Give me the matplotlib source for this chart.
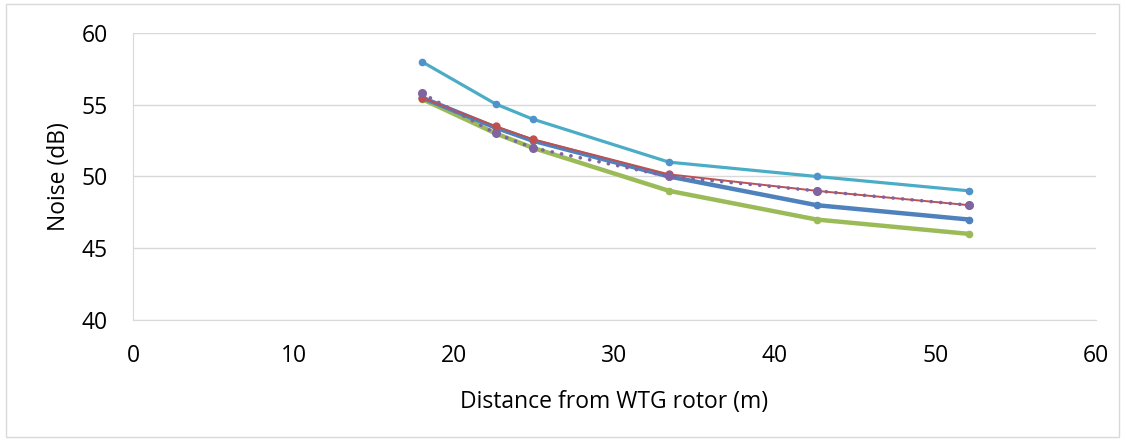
import matplotlib.pyplot as plt

plt.rcParams['font.family'] = ['Open Sans', 'DejaVu Sans']

distance = [18, 22.6, 24.9, 33.4, 42.6, 52.1]

noise_cyan = [58, 55.05, 54, 51, 50, 49]
noise_blue = [55.5, 53.4, 52.5, 50.0, 48, 47]
noise_red = [55.5, 53.5, 52.6, 50.15, 49, 48]
noise_purple = [55.8, 53, 52, 50, 49, 48]
noise_green = [55.4, 53, 52, 49, 47, 46]

fig = plt.figure(figsize=(11.26, 4.41), dpi=100)
ax = fig.add_axes([133 / 1126, 1 - 320 / 441, (1096 - 133) / 1126, (320 - 33) / 441])

ax.plot(distance, noise_green, color='#9BBB59', lw=3.2, marker='o', ms=4.5, zorder=3)
ax.plot(distance, noise_blue, color='#4F81BD', lw=3.2, marker='o', ms=4.5, zorder=4)
ax.plot(distance, noise_red, color='#C0504D', lw=1.4, marker='o', ms=5, zorder=5)
ax.plot(distance, noise_cyan, color='#4BACC6', lw=2.3, marker='o', ms=4.5, mfc='#4F93C8', mec='#4F93C8', zorder=5)
ax.plot(distance, noise_purple, color='#8064A2', lw=2.6, ls=(0, (0.05, 2.6)), dash_capstyle='round',
        marker='o', ms=5.5, zorder=6)

ax.set_xlim(0, 60)
ax.set_ylim(40, 60)
ax.set_xticks(range(0, 61, 10))
ax.set_yticks(range(40, 61, 5))
ax.grid(axis='y', color='#D9D9D9', lw=1)
ax.set_axisbelow(True)
for s in ['top', 'right']:
    ax.spines[s].set_visible(False)
for s in ['left', 'bottom']:
    ax.spines[s].set_color('#D9D9D9')
ax.tick_params(length=0, labelsize=16.5, colors='#000000')
ax.tick_params(axis='x', pad=17)
ax.tick_params(axis='y', pad=18)
ax.set_xlabel('Distance from WTG rotor (m)', fontsize=16.5, labelpad=16)
ax.set_ylabel('Noise (dB)', fontsize=16.5, labelpad=8)

border = plt.Rectangle((6 / 1126, 4 / 441), 1113 / 1126, 433 / 441, transform=fig.transFigure,
                       fill=False, edgecolor='#D9D9D9', lw=1)
fig.patches.append(border)

plt.savefig('out.png', dpi=100)
